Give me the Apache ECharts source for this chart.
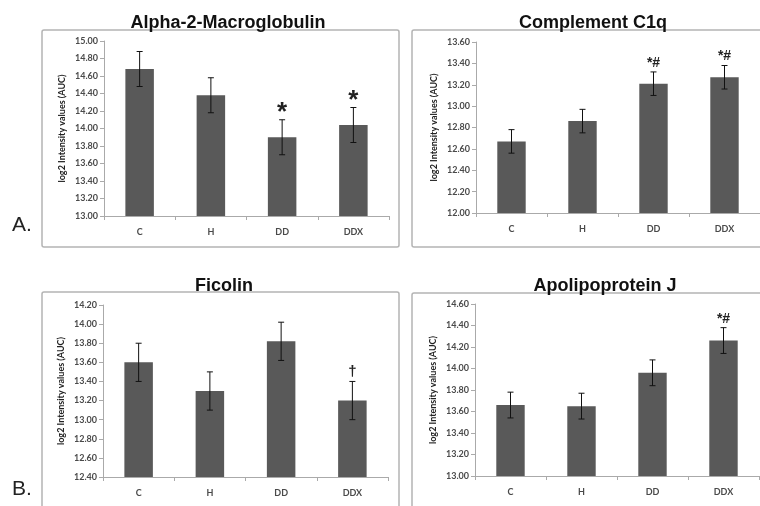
<!DOCTYPE html>
<html><head><meta charset="utf-8">
<script src="https://cdn.jsdelivr.net/npm/echarts@6/dist/echarts.min.js"></script>
<style>html,body{margin:0;padding:0;background:#fff}#c{width:760px;height:506px}</style>
</head><body><div id="c"></div>
<script>
var categories = ['C', 'H', 'DD', 'DDX'];
var titles = ['Alpha-2-Macroglobulin', 'Complement C1q', 'Ficolin', 'Apolipoprotein J'];
var yAxisName = 'log2 Intensity values (AUC)';

var a2mValues = [14.68, 14.38, 13.90, 14.04];
var a2mErrors = [0.20, 0.20, 0.20, 0.20];
var a2mMarks = ['', '', '*', '*'];

var c1qValues = [12.67, 12.86, 13.21, 13.27];
var c1qErrors = [0.11, 0.11, 0.11, 0.11];
var c1qMarks = ['', '', '*#', '*#'];

var ficolinValues = [13.60, 13.30, 13.82, 13.20];
var ficolinErrors = [0.20, 0.20, 0.20, 0.20];
var ficolinMarks = ['', '', '', '\u2020'];

var apojValues = [13.66, 13.65, 13.96, 14.26];
var apojErrors = [0.12, 0.12, 0.12, 0.12];
var apojMarks = ['', '', '', '*#'];

var yMins = [13.0, 12.0, 12.4, 13.0];
var yMaxs = [15.0, 13.6, 14.2, 14.6];
var yStep = 0.2;

var panels = [
  {v: a2mValues, e: a2mErrors, m: a2mMarks},
  {v: c1qValues, e: c1qErrors, m: c1qMarks},
  {v: ficolinValues, e: ficolinErrors, m: ficolinMarks},
  {v: apojValues, e: apojErrors, m: apojMarks}
];

// layout
var grids = [
  {left: 104, top: 41, width: 285, height: 175},
  {left: 476, top: 42, width: 284, height: 171},
  {left: 103, top: 305, width: 285, height: 172},
  {left: 475, top: 304, width: 284, height: 172}
];
var titlePos = [[223, 9], [588, 9], [219, 272], [600, 272]];
var markFont = [
  {size: 26, weight: 'bold', off: -6},
  {size: 14, weight: 'bold', off: 2},
  {size: 15, weight: 'bold', off: 2},
  {size: 14, weight: 'bold', off: 2}
];

var font = 'Liberation Sans, Arial, sans-serif';
var labelFont = 'Lato, Liberation Sans, Arial, sans-serif';

var chart = echarts.init(document.getElementById('c'), null, {renderer: 'canvas'});

var option = {
  animation: false,
  backgroundColor: '#fff',
  title: titles.map(function (t, i) {
    return {text: t, left: titlePos[i][0], top: titlePos[i][1], textAlign: 'center',
      textStyle: {fontFamily: font, fontSize: 18, fontWeight: 'bold', color: '#111'}};
  }),
  graphic: [
    {type: 'rect', shape: {x: 42, y: 30, width: 357, height: 217, r: 2}, style: {fill: 'none', stroke: '#b4b4b4', lineWidth: 1.5}, z: 0},
    {type: 'rect', shape: {x: 412, y: 30, width: 360, height: 217, r: 2}, style: {fill: 'none', stroke: '#b4b4b4', lineWidth: 1.5}, z: 0},
    {type: 'rect', shape: {x: 42, y: 292, width: 357, height: 230, r: 2}, style: {fill: 'none', stroke: '#b4b4b4', lineWidth: 1.5}, z: 0},
    {type: 'rect', shape: {x: 412, y: 293, width: 360, height: 230, r: 2}, style: {fill: 'none', stroke: '#b4b4b4', lineWidth: 1.5}, z: 0},
    {type: 'text', left: 12, top: 215, style: {text: 'A.', fontFamily: font, fontSize: 21, fill: '#222'}},
    {type: 'text', left: 12, top: 479, style: {text: 'B.', fontFamily: font, fontSize: 21, fill: '#222'}}
  ],
  grid: grids,
  xAxis: grids.map(function (g, i) {
    return {type: 'category', gridIndex: i, data: categories,
      axisLine: {lineStyle: {color: '#aaaaaa', width: 1}},
      axisTick: {show: true, length: 4, lineStyle: {color: '#aaaaaa'}},
      axisLabel: {margin: 12, fontFamily: labelFont, fontSize: 9, fontWeight: 'bold', color: '#4a4a4a'}};
  }),
  yAxis: grids.map(function (g, i) {
    return {type: 'value', gridIndex: i, min: yMins[i], max: yMaxs[i], interval: yStep,
      name: yAxisName, nameLocation: 'middle', nameGap: 37, nameRotate: 90,
      nameTextStyle: {fontFamily: labelFont, fontSize: 9, fontWeight: 'bold', color: '#222'},
      axisLine: {show: true, lineStyle: {color: '#aaaaaa', width: 1}},
      axisTick: {show: true, length: 4, lineStyle: {color: '#aaaaaa'}},
      splitLine: {show: false},
      axisLabel: {margin: 6, fontFamily: labelFont, fontSize: 9, fontWeight: 'bold', color: '#4a4a4a',
        formatter: function (v) { return v.toFixed(2); }}};
  }),
  series: []
};

panels.forEach(function (p, i) {
  option.series.push({
    type: 'bar', xAxisIndex: i, yAxisIndex: i, data: p.v, barWidth: '40%',
    itemStyle: {color: '#595959'}, z: 2
  });
  var errData = p.v.map(function (v, k) { return [k, v - p.e[k], v + p.e[k]]; });
  option.series.push({
    type: 'custom', xAxisIndex: i, yAxisIndex: i, data: errData, z: 3,
    renderItem: function (params, api) {
      var k = api.value(0);
      var lo = api.coord([k, api.value(1)]);
      var hi = api.coord([k, api.value(2)]);
      var cw = 3;
      var children = [
        {type: 'line', shape: {x1: hi[0], y1: hi[1], x2: lo[0], y2: lo[1]}, style: {stroke: '#111', lineWidth: 1}},
        {type: 'line', shape: {x1: hi[0] - cw, y1: hi[1], x2: hi[0] + cw, y2: hi[1]}, style: {stroke: '#111', lineWidth: 1}},
        {type: 'line', shape: {x1: lo[0] - cw, y1: lo[1], x2: lo[0] + cw, y2: lo[1]}, style: {stroke: '#111', lineWidth: 1}}
      ];
      var mark = p.m[params.dataIndex];
      if (mark) {
        var mf = markFont[i];
        children.push({type: 'text', style: {text: mark, x: hi[0], y: hi[1] - mf.off,
          textAlign: 'center', textVerticalAlign: 'bottom', fontFamily: font,
          fontSize: mf.size, fontWeight: mf.weight, fill: '#222'}});
      }
      return {type: 'group', children: children};
    }
  });
});

chart.setOption(option);
</script>
</body></html>
